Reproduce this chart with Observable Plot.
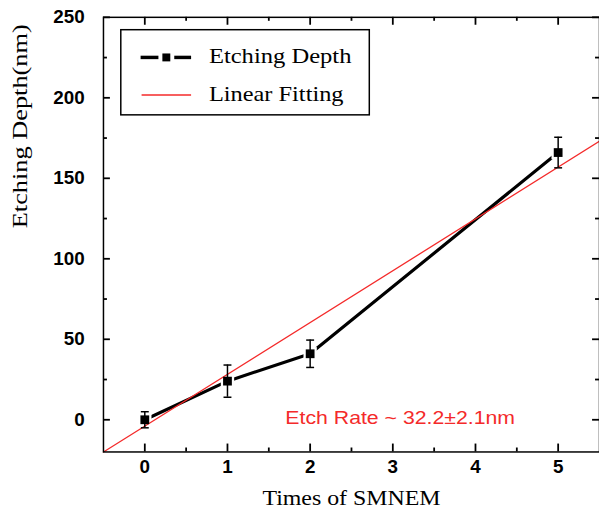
<!DOCTYPE html>
<html><head><meta charset="utf-8">
<script src="https://cdn.jsdelivr.net/npm/d3@7"></script>
<script src="https://cdn.jsdelivr.net/npm/@observablehq/plot@0.6"></script>
<style>html,body{margin:0;padding:0;overflow:hidden;background:#fff}</style>
</head><body><div id="chart"></div>
<script>
// Data
const times = [0, 1, 2, 5];
const depth = [0, 24, 41, 166];
const depthErr = [5, 10, 8.5, 9.5];
const fitX = [-0.5, 5.5];
const fitY = [-20, 173];
const xTicks = [0, 1, 2, 3, 4, 5];
const xMinor = [0.5, 1.5, 2.5, 3.5, 4.5];
const yTicks = [0, 50, 100, 150, 200, 250];
const yMinor = [25, 75, 125, 175, 225];
const xLabel = "Times of SMNEM";
const yLabel = "Etching Depth(nm)";
const rateText = "Etch Rate ~ 32.2\u00B12.1nm";
const legendLabels = ["Etching Depth", "Linear Fitting"];

const pts = times.map((t, i) => ({x: t, y: depth[i], e: depthErr[i]}));
const fit = fitX.map((x, i) => ({x, y: fitY[i]}));

const W = 605, H = 522, mL = 104, mR = 0, mT = 17, mB = 66;
const fw = W - mL - mR, fh = H - mT - mB;
const red = "#f42a2a";

const capSymbol = {draw(ctx, size) { const h = Math.sqrt(size / Math.PI); ctx.moveTo(-h, 0); ctx.lineTo(h, 0); }};
const tk = {stroke: "black", strokeWidth: 1.8};

const tickFont = {fontFamily: "Liberation Sans", fontWeight: "bold", fontSize: 19, fill: "black"};

const chart = Plot.plot({
  width: W, height: H,
  marginLeft: mL, marginRight: mR, marginTop: mT, marginBottom: mB,
  style: {fontFamily: "Liberation Sans", background: "white", overflow: "visible"},
  x: {domain: [-0.5, 5.5], axis: null},
  y: {domain: [-20, 250], axis: null},
  marks: [
    // inward ticks on all four sides
    Plot.tickX(xTicks, {x: d => d, insetTop: fh - 8, ...tk}),
    Plot.tickX(xMinor, {x: d => d, insetTop: fh - 4, ...tk}),
    Plot.tickX(xTicks, {x: d => d, insetBottom: fh - 8, ...tk}),
    Plot.tickX(xMinor, {x: d => d, insetBottom: fh - 4, ...tk}),
    Plot.tickY(yTicks, {y: d => d, insetRight: fw - 7, ...tk}),
    Plot.tickY(yMinor, {y: d => d, insetRight: fw - 4, ...tk}),
    Plot.tickY(yTicks, {y: d => d, insetLeft: fw - 7, ...tk}),
    Plot.tickY(yMinor, {y: d => d, insetLeft: fw - 4, ...tk}),
    // tick labels
    Plot.text(xTicks, {x: d => d, frameAnchor: "bottom", dy: 21, text: d => String(d), textAnchor: "middle", ...tickFont}),
    Plot.text(yTicks, {y: d => d, frameAnchor: "left", dx: -19, text: d => String(d), textAnchor: "end", ...tickFont}),
    // axis titles
    Plot.text([xLabel], {frameAnchor: "bottom", dy: 54, text: d => d, fontFamily: "Liberation Serif", fontSize: 22, fill: "black"}),
    Plot.text([yLabel], {frameAnchor: "left", dx: -84, dy: -6.5, rotate: -90, text: d => d, fontFamily: "Liberation Serif", fontSize: 22, fill: "black"}),
    // data line
    Plot.line(pts, {x: "x", y: "y", stroke: "black", strokeWidth: 3.2}),
    Plot.dot(pts, {x: "x", y: "y", symbol: "square", r: 7.6, fill: "white", stroke: "none"}),
    // fit line
    Plot.line(fit, {x: "x", y: "y", stroke: red, strokeWidth: 1.3}),
    // error bars
    Plot.ruleX(pts, {x: "x", y1: d => d.y - d.e, y2: d => d.y + d.e, stroke: "black", strokeWidth: 1.5}),
    Plot.dot(pts, {x: "x", y: d => d.y + d.e, symbol: capSymbol, r: 4, fill: "none", stroke: "black", strokeWidth: 1.5}),
    Plot.dot(pts, {x: "x", y: d => d.y - d.e, symbol: capSymbol, r: 4, fill: "none", stroke: "black", strokeWidth: 1.5}),
    Plot.dot(pts, {x: "x", y: "y", symbol: "square", r: 5, fill: "black", stroke: "none"}),
    // annotation
    Plot.text([rateText], {x: 1.7, y: 1, text: d => d, textAnchor: "start", fontFamily: "Liberation Sans", fontSize: 18, fill: red}),
    Plot.frame({stroke: "black", strokeWidth: 1.5})
  ]
});

document.getElementById("chart").appendChild(chart);

// stretch texts horizontally as in the reference
const lengths = {[rateText]: 232, [xLabel]: 180, [yLabel]: 206};
d3.select(chart).selectAll("text").each(function() {
  const t = this.textContent;
  if (lengths[t]) { this.setAttribute("textLength", lengths[t]); this.setAttribute("lengthAdjust", "spacingAndGlyphs"); }
});

// legend
const svg = d3.select(chart);
const lg = svg.append("g").attr("text-anchor", "start");
lg.append("rect").attr("x", 122).attr("y", 30).attr("width", 251).attr("height", 86)
  .attr("fill", "white").attr("stroke", "black").attr("stroke-width", 1.5);
lg.append("line").attr("x1", 142).attr("x2", 160).attr("y1", 58).attr("y2", 58).attr("stroke", "black").attr("stroke-width", 3.5);
lg.append("line").attr("x1", 176).attr("x2", 193).attr("y1", 58).attr("y2", 58).attr("stroke", "black").attr("stroke-width", 3.5);
lg.append("rect").attr("x", 164).attr("y", 54).attr("width", 8).attr("height", 8).attr("fill", "black");
lg.append("line").attr("x1", 143).attr("x2", 193).attr("y1", 96).attr("y2", 96).attr("stroke", red).attr("stroke-width", 1.5);
lg.append("text").attr("x", 211).attr("y", 64).text(legendLabels[0]).attr("text-anchor", "start").attr("fill", "black")
  .attr("font-family", "Liberation Serif").attr("font-size", 21).attr("textLength", 144).attr("lengthAdjust", "spacingAndGlyphs");
lg.append("text").attr("x", 211).attr("y", 102).text(legendLabels[1]).attr("text-anchor", "start").attr("fill", "black")
  .attr("font-family", "Liberation Serif").attr("font-size", 21).attr("textLength", 136).attr("lengthAdjust", "spacingAndGlyphs");
</script>
</body></html>
